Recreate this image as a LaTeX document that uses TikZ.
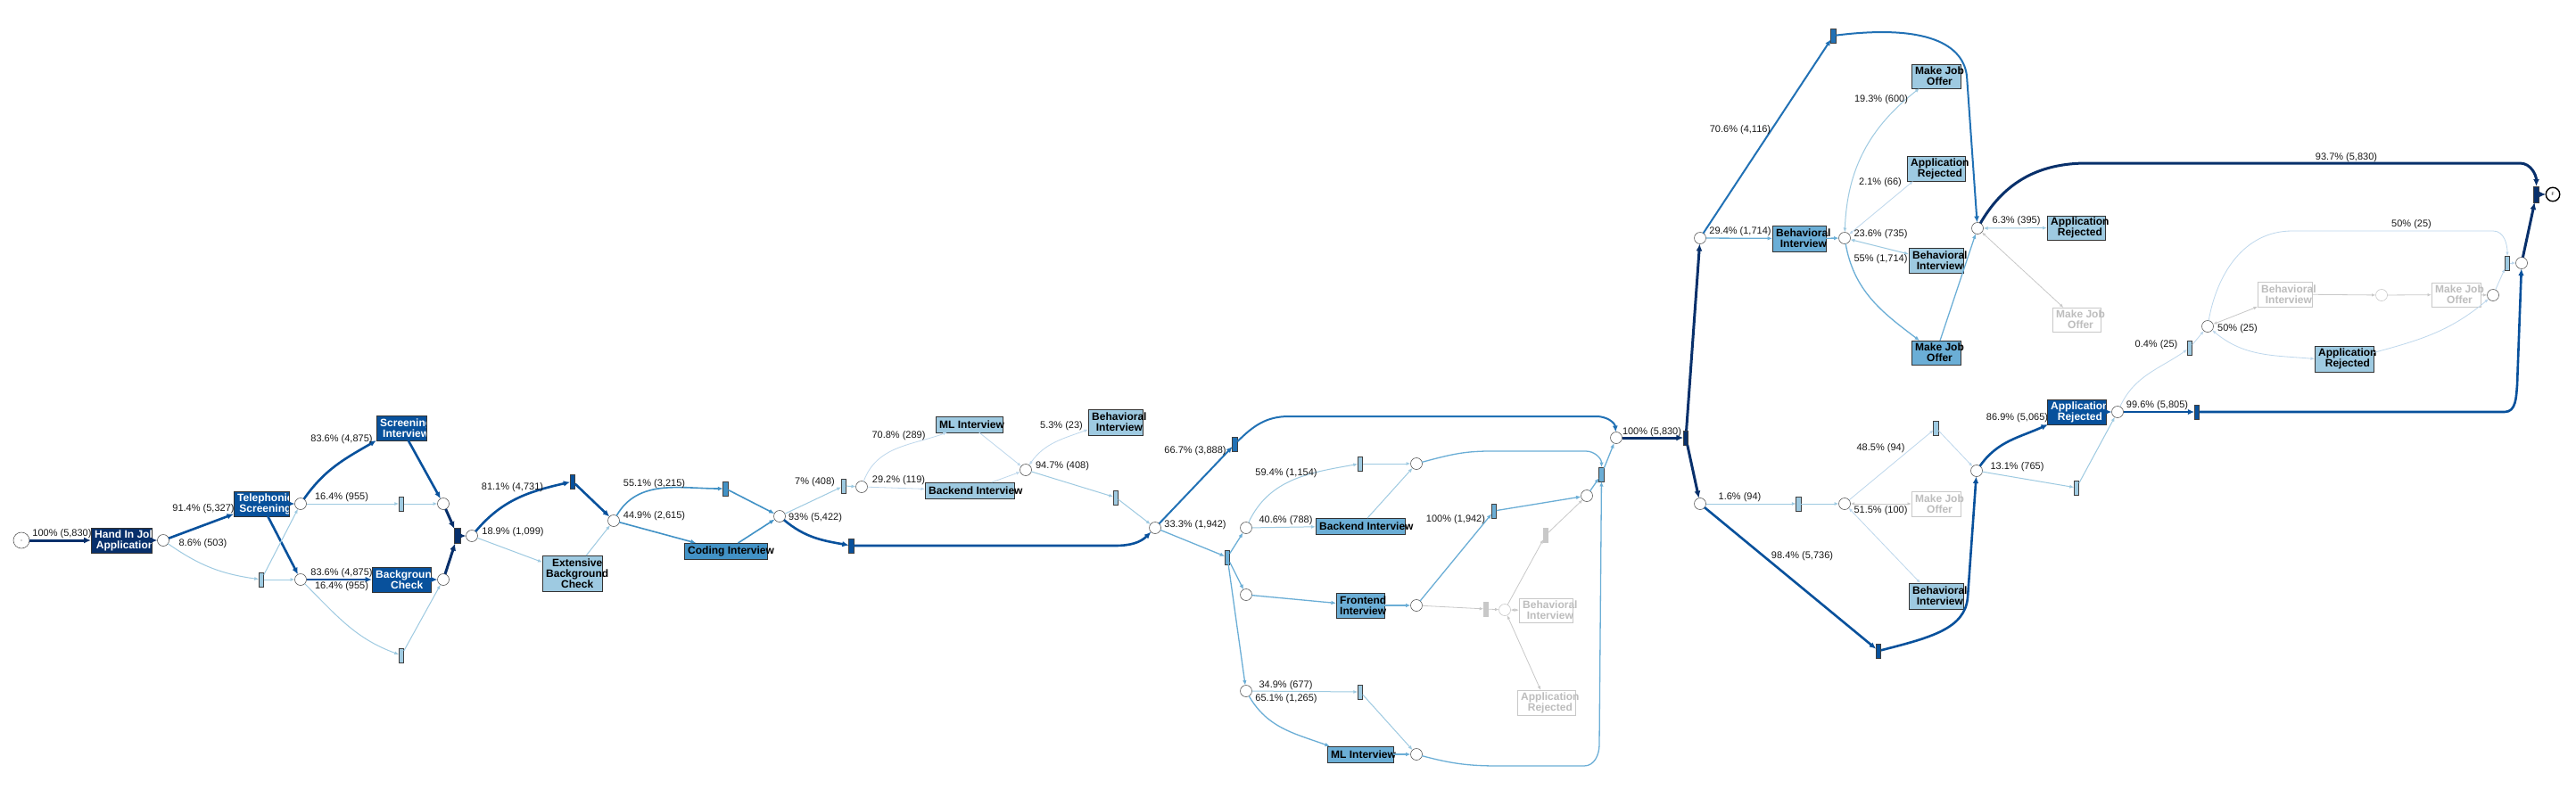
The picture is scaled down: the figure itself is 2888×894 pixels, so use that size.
\documentclass[tikz,border=0pt]{standalone}
\usepackage{fontspec}
\setmainfont{Liberation Sans}
\usetikzlibrary{arrows.meta}
\definecolor{c1}{HTML}{08306B}
\definecolor{c2}{HTML}{08519C}
\definecolor{c3}{HTML}{2171B5}
\definecolor{c4}{HTML}{4292C6}
\definecolor{c5}{HTML}{6BAED6}
\definecolor{c6}{HTML}{9ECAE1}
\definecolor{c7}{HTML}{BDD7EC}
\definecolor{cg}{HTML}{C8C8C8}
\definecolor{cgt}{HTML}{BDBDBD}
\tikzset{
 place/.style={circle, draw=black!65, fill=white, line width=0.6pt, minimum size=13pt, inner sep=0pt, outer sep=0pt},
 gplace/.style={place, draw=cg},
 tau/.style={rectangle, draw=black!75, line width=0.6pt, minimum width=5.5pt, minimum height=16pt, inner sep=0pt, outer sep=0pt, fill=#1},
 gtau/.style={rectangle, draw=cg, fill=cg, line width=0.6pt, minimum width=5.5pt, minimum height=16pt, inner sep=0pt, outer sep=0pt},
 actbox/.style={rectangle, draw=black!80, line width=0.7pt, inner sep=0pt, outer sep=0pt, fill=#1},
 gbox/.style={rectangle, draw=cg, line width=0.7pt, inner sep=0pt, outer sep=0pt, fill=white},
 acttext/.style={anchor=west, inner sep=0pt, align=center, font=\bfseries\fontsize{12}{12}\selectfont},
 lbl/.style={inner sep=0pt, font=\fontsize{11}{12}\selectfont, text=black!90},
 e1/.style={draw=c1, line width=3pt, >={Latex[length=8pt,width=7pt]}, ->},
 e2/.style={draw=c2, line width=2.6pt, >={Latex[length=7.5pt,width=6.5pt]}, ->},
 e3/.style={draw=c3, line width=2pt, >={Latex[length=7pt,width=6pt]}, ->},
 e4/.style={draw=c4, line width=1.6pt, >={Latex[length=6pt,width=5pt]}, ->},
 e5/.style={draw=c5, line width=1.3pt, >={Latex[length=5.5pt,width=4.5pt]}, ->},
 e6/.style={draw=c6, line width=1pt, >={Latex[length=5pt,width=4pt]}, ->},
 e7/.style={draw=c7, line width=0.8pt, >={Latex[length=4.5pt,width=3.5pt]}, ->},
 eg/.style={draw=cg, line width=0.8pt, >={Latex[length=4.5pt,width=3.5pt]}, ->}
}
\newcommand{\mkact}[8]{\node[#6, minimum width=#4pt, minimum height=#5pt] (#1) at (#2,-#3) {};\node[acttext, text=#7] (#1t) at ([xshift=4pt]#1.west) {#8};}
\newcommand{\mkactc}[8]{\node[#6, minimum width=#4pt, minimum height=#5pt] (#1) at (#2,-#3) {};\begin{scope}\clip ([shift={(0.4pt,0.4pt)}]#1.south west) rectangle ([shift={(-0.4pt,-0.4pt)}]#1.north east);\node[acttext, text=#7] (#1t) at ([xshift=4pt]#1.west) {#8};\end{scope}}
\begin{document}
\begin{tikzpicture}[x=1pt,y=1pt]
\useasboundingbox[fill=white] (0,0) rectangle (2888,-894);
% activity boxes
\mkactc{HandIn}{136}{606}{68}{28}{actbox=c1}{white}{Hand In Job\\Application}
\mkactc{Tele}{293}{565}{62}{28}{actbox=c2}{white}{Telephonic\\Screening}
\mkactc{SI}{450}{480}{56}{28}{actbox=c2}{white}{Screening\\Interview}
\mkactc{BgC}{450}{650}{66}{28}{actbox=c2}{white}{Background\\Check}
\mkact{ExtBg}{641.5}{643}{67}{40}{actbox=c6}{black}{Extensive\\Background\\Check}
\mkact{Coding}{813.5}{618}{93}{18}{actbox=c4}{black}{Coding Interview}
\mkact{MLa}{1086.5}{476}{75}{18}{actbox=c6}{black}{ML Interview}
\mkact{Backa}{1087}{550}{100}{18}{actbox=c6}{black}{Backend Interview}
\mkact{Beha}{1250.5}{473.5}{61}{29}{actbox=c6}{black}{Behavioral\\Interview}
\mkact{Backb}{1525}{590}{100}{18}{actbox=c5}{black}{Backend Interview}
\mkact{Front}{1525}{679}{54}{28}{actbox=c5}{black}{Frontend\\Interview}
\mkact{MLb}{1525}{846}{74}{18}{actbox=c5}{black}{ML Interview}
\mkact{BehG}{1733}{684.5}{60}{27}{gbox}{cgt}{Behavioral\\Interview}
\mkact{ARG}{1733.5}{788}{65}{28}{gbox}{cgt}{Application\\Rejected}
\mkact{Behb}{2017}{267.5}{60}{29}{actbox=c5}{black}{Behavioral\\Interview}
\mkact{MJa}{2170.5}{85.5}{55}{27}{actbox=c6}{black}{Make Job\\Offer}
\mkact{ARa}{2170.5}{189}{65}{28}{actbox=c6}{black}{Application\\Rejected}
\mkact{Behc}{2170.5}{292}{61}{28}{actbox=c6}{black}{Behavioral\\Interview}
\mkact{MJb}{2170.5}{395.5}{55}{27}{actbox=c5}{black}{Make Job\\Offer}
\mkact{ARb}{2327.5}{255.5}{65}{27}{actbox=c6}{black}{Application\\Rejected}
\mkact{MJGa}{2328}{358.5}{54}{27}{gbox}{cgt}{Make Job\\Offer}
\mkact{MJGc}{2170.5}{565}{55}{28}{gbox}{cgt}{Make Job\\Offer}
\mkact{Behd}{2170.5}{668.5}{61}{29}{actbox=c6}{black}{Behavioral\\Interview}
\mkactc{ARd}{2328}{462}{66}{28}{actbox=c2}{white}{Application\\Rejected}
\mkact{BehG2}{2561.5}{330}{61}{28}{gbox}{cgt}{Behavioral\\Interview}
\mkact{MJGb}{2753.5}{330.5}{55}{27}{gbox}{cgt}{Make Job\\Offer}
\mkact{ARc}{2628}{402.5}{66}{29}{actbox=c6}{black}{Application\\Rejected}
% places
\node[place, minimum size=18pt] (S) at (24,-606) {};
\fill[black!70] (S.center) circle (0.6pt);
\node[place] (p1) at (183,-606) {};
\node[place] (p2) at (337,-565) {};
\node[place] (p3) at (497,-565) {};
\node[place] (p4) at (337,-650) {};
\node[place] (p5) at (497,-650) {};
\node[place] (p6) at (529,-601) {};
\node[place] (p7) at (688,-584) {};
\node[place] (p8) at (874,-579) {};
\node[place] (p9) at (966,-546) {};
\node[place] (p10) at (1150,-527) {};
\node[place] (p11) at (1295,-592) {};
\node[place] (p12) at (1397,-592) {};
\node[place] (p13) at (1397,-667) {};
\node[place] (p14) at (1397,-775) {};
\node[place] (p15) at (1588,-520) {};
\node[place] (p16) at (1588,-679) {};
\node[place] (p17) at (1779,-556) {};
\node[place] (p18) at (1812,-491) {};
\node[gplace] (p19) at (1687,-684) {};
\node[place] (p20) at (1588,-846) {};
\node[place] (p21) at (1906,-267) {};
\node[place] (p22) at (1906,-565) {};
\node[place] (p23) at (2068,-267) {};
\node[place] (p24) at (2217,-256) {};
\node[place] (p25) at (2827,-295) {};
\node[gplace] (p26) at (2670,-331) {};
\node[place] (p27) at (2795,-331) {};
\node[place] (p28) at (2475,-366) {};
\node[place] (p29) at (2374,-462) {};
\node[place] (p30) at (2068,-565) {};
\node[place] (p31) at (2216,-528) {};
\node[place, minimum size=15.5pt, draw=black, line width=1.4pt] (E) at (2862,-218) {\fontsize{5}{5}\selectfont F};
% silent transitions
\node[tau=c6] (ta) at (450,-565) {};
\node[tau=c6] (tb) at (293,-650) {};
\node[tau=c6] (tc) at (450,-735) {};
\node[tau=c1, minimum width=7pt, minimum height=17pt] (tja) at (513,-601) {};
\node[tau=c2] (tjb) at (642,-540) {};
\node[tau=c4] (td) at (813.5,-548) {};
\node[tau=c6] (te) at (946,-545) {};
\node[tau=c2] (tbig) at (954.5,-612) {};
\node[tau=c6] (tf) at (1251,-558) {};
\node[tau=c3] (tg) at (1384.5,-498) {};
\node[tau=c5] (th) at (1376,-625) {};
\node[tau=c6] (ti) at (1525,-520) {};
\node[tau=c5] (tj) at (1675,-573) {};
\node[tau=c5] (tk) at (1795.5,-532) {};
\node[gtau] (tl) at (1733,-600) {};
\node[gtau] (tm) at (1666,-683) {};
\node[tau=c6] (tn) at (1525,-776) {};
\node[tau=c1] (tsplit) at (1890,-491) {};
\node[tau=c3] (tp) at (2055.5,-40) {};
\node[tau=c6] (tt) at (2016.5,-565) {};
\node[tau=c6] (tu) at (2170.5,-480) {};
\node[tau=c2] (tv) at (2106,-730) {};
\node[tau=c6] (tw) at (2328,-547) {};
\node[tau=c6] (tr) at (2455,-390) {};
\node[tau=c6] (tq) at (2811,-295) {};
\node[tau=c2] (ts) at (2463,-462) {};
\node[tau=c1, minimum width=6pt, minimum height=18pt] (tend) at (2843.5,-218) {};
% arcs
\draw[e1] (S) -- (HandIn);
\draw[e1] (HandIn) -- (p1);
\draw[e2] (p1) -- (Tele);
\draw[e6] (p1) to[out=-35,in=172] (tb);
\draw[e2] (Tele) -- (p2);
\draw[e2] (Tele) -- (p4);
\draw[e6] (tb) -- (p2);
\draw[e6] (tb) -- (p4);
\draw[e2] (p2) to[out=55,in=-150] (SI.south west);
\draw[e6] (p2) -- (ta);
\draw[e6] (ta) -- (p3);
\draw[e2] (SI) -- (p3);
\draw[e2] (p4) -- (BgC);
\draw[e6] (p4) to[out=-45,in=160] (tc);
\draw[e6] (tc) -- (p5);
\draw[e2] (BgC) -- (p5);
\draw[e1] (p3) -- (tja);
\draw[e1] (p5) -- (tja);
\draw[e1] (tja) -- (p6);
\draw[e2] (p6) to[out=50,in=193] (tjb);
\draw[e6] (p6) -- (ExtBg);
\draw[e2] (tjb) -- (p7);
\draw[e6] (ExtBg) -- (p7);
\draw[e4] (p7) to[out=60,in=180] (td);
\draw[e4] (p7) -- (Coding);
\draw[e4] (td) -- (p8);
\draw[e4] (Coding) -- (p8);
\draw[e6] (p8) -- (te);
\draw[e2] (p8) to[out=-40,in=170] (tbig);
\draw[e6] (te) -- (p9);
\draw[e7] (p9) to[out=70,in=-160] (MLa.-160);
\draw[e7] (p9) -- (Backa);
\draw[e7] (MLa) -- (p10);
\draw[e7] (Backa) -- (p10);
\draw[e7,<->] (p10) to[out=55,in=-160] (Beha.-165);
\draw[e6] (p10) -- (tf);
\draw[e6] (tf) -- (p11);
\draw[e2] (tbig) -- (1250,-612) to[out=0,in=-135] (p11);
\draw[e3] (p11) -- (tg);
\draw[e3] (tg) to[out=45,in=180] (1445,-467) -- (1790,-467) to[out=0,in=95] (p18);
\draw[e5] (p11) -- (th);
\draw[e5] (th) -- (p12);
\draw[e5] (th) -- (p13);
\draw[e5] (th) -- (p14);
\draw[e6] (p12) to[out=65,in=190] (ti);
\draw[e6] (p12) -- (Backb);
\draw[e6] (ti) -- (p15);
\draw[e6] (Backb) -- (p15);
\draw[e5] (p15) to[out=15,in=180] (1670,-506) -- (1778,-506) to[out=0,in=90] (tk);
\draw[e5] (p13) -- (Front);
\draw[e5] (Front) -- (p16);
\draw[e5] (p16) -- (tj);
\draw[e5] (tj) -- (p17);
\draw[eg] (p16) -- (tm);
\draw[eg] (tm) -- (p19);
\draw[eg,<->] (p19) -- (BehG);
\draw[eg,<->] (p19) -- (ARG);
\draw[eg] (p19) -- (tl);
\draw[eg] (tl) -- (p17);
\draw[e5] (p17) -- (tk);
\draw[e6] (p14) -- (tn);
\draw[e5] (p14) to[out=-60,in=160] ([xshift=3pt]MLb.north west);
\draw[e6] (tn) -- (p20);
\draw[e5] (MLb) -- (p20);
\draw[e5] (p20) to[out=-15,in=180] (1680,-859) -- (1776,-859) to[out=0,in=-90] (1793,-835) -- (tk);
\draw[e5] (tk) -- (p18);
\draw[e1] (p18) -- (tsplit);
\draw[e1] (tsplit) -- (p21);
\draw[e1] (tsplit) -- (p22);
\draw[e3] (p21) -- (tp);
\draw[e3] (tp) .. controls (2150,-28) and (2200,-45) .. (2205,-85) -- (p24);
\draw[e5] (p21) -- (Behb);
\draw[e5] (Behb) -- (p23);
\draw[e6,<->] (p23) to[out=88,in=-142] ([xshift=9pt]MJa.south west);
\draw[e7,<->] (p23) -- ([xshift=7pt]ARa.south west);
\draw[e6,<->] (p23) -- ([yshift=7pt]Behc.west);
\draw[e5] (p23) to[out=-80,in=143] ([xshift=9pt]MJb.north west);
\draw[e5] (MJb) -- (p24);
\draw[e6,<->] (p24) -- (ARb);
\draw[eg,<->] (p24) -- (MJGa);
\draw[e1] (p24) to[out=60,in=180] (2340,-183) -- (2825,-183) to[out=0,in=90] (tend);
\draw[e6] (p22) -- (tt);
\draw[e6] (tt) -- (p30);
\draw[e7] (p30) -- (tu);
\draw[e7] (tu) -- (p31);
\draw[eg,<->] (p30) -- (MJGc);
\draw[e7,<->] (p30) -- ([xshift=13pt]Behd.north west);
\draw[e2] (p22) -- (tv);
\draw[e2] (tv) .. controls (2165,-715) and (2203,-705) .. (2206,-670) -- (p31);
\draw[e2] (p31) to[out=55,in=-155] ([xshift=1pt]ARd.south west);
\draw[e6] (p31) -- (tw);
\draw[e6] (tw) -- (p29);
\draw[e2] (ARd) -- (p29);
\draw[e2] (p29) -- (ts);
\draw[e2] (ts) -- (2808,-462) to[out=0,in=-95] (2822,-432) -- (p25);
\draw[e7] (p29) to[out=65,in=-145] (tr);
\draw[e7] (tr) -- (p28);
\draw[eg,<->] (p28) -- (BehG2.south west);
\draw[e7,<->] (p28) to[out=-40,in=175] (ARc.west);
\draw[e7] (p28) to[out=80,in=180] (2570,-259) -- (2795,-259) to[out=0,in=90] (tq);
\draw[eg] (BehG2) -- (p26);
\draw[eg] (p26) -- (MJGb);
\draw[eg] (MJGb) -- (p27);
\draw[e7] ([yshift=7pt]ARc.east) to[out=15,in=-140] (p27);
\draw[e7] (p27) -- (tq);
\draw[e7] (tq) -- (p25);
\draw[e1] (p25) -- (tend);
\draw[e1] (tend) -- (E);
% labels
\node[lbl] (l1) at (69.5,-599) {100\% (5,830)};
\node[lbl] (l2) at (228,-571) {91.4\% (5,327)};
\node[lbl] (l3) at (227.5,-610) {8.6\% (503)};
\node[lbl] (l4) at (383,-558) {16.4\% (955)};
\node[lbl] (l5) at (383,-493) {83.6\% (4,875)};
\node[lbl] (l6) at (383,-643) {83.6\% (4,875)};
\node[lbl] (l7) at (383,-658) {16.4\% (955)};
\node[lbl] (l8) at (574.5,-547) {81.1\% (4,731)};
\node[lbl] (l9) at (575,-597) {18.9\% (1,099)};
\node[lbl] (l10) at (733.5,-543) {55.1\% (3,215)};
\node[lbl] (l11) at (733.5,-579) {44.9\% (2,615)};
\node[lbl] (l12) at (914,-581) {93\% (5,422)};
\node[lbl] (l13) at (913.5,-541) {7\% (408)};
\node[lbl] (l14) at (1007.5,-539) {29.2\% (119)};
\node[lbl] (l15) at (1007.5,-489) {70.8\% (289)};
\node[lbl] (l16) at (1191,-523) {94.7\% (408)};
\node[lbl] (l17) at (1190,-478) {5.3\% (23)};
\node[lbl] (l18) at (1340,-589) {33.3\% (1,942)};
\node[lbl] (l19) at (1340,-506) {66.7\% (3,888)};
\node[lbl] (l20) at (1442,-531) {59.4\% (1,154)};
\node[lbl] (l21) at (1441.5,-584) {40.6\% (788)};
\node[lbl] (l22) at (1632,-583) {100\% (1,942)};
\node[lbl] (l23) at (1441.5,-769) {34.9\% (677)};
\node[lbl] (l24) at (1442,-784) {65.1\% (1,265)};
\node[lbl] (l25) at (1852,-485) {100\% (5,830)};
\node[lbl] (l26) at (1951,-146) {70.6\% (4,116)};
\node[lbl] (l27) at (1951,-260) {29.4\% (1,714)};
\node[lbl] (l28) at (2109,-112) {19.3\% (600)};
\node[lbl] (l29) at (2108,-205) {2.1\% (66)};
\node[lbl] (l30) at (2108.5,-263) {23.6\% (735)};
\node[lbl] (l31) at (2108.5,-291) {55\% (1,714)};
\node[lbl] (l32) at (2260.5,-248) {6.3\% (395)};
\node[lbl] (l33) at (2630.5,-177) {93.7\% (5,830)};
\node[lbl] (l34) at (2703.5,-252) {50\% (25)};
\node[lbl] (l35) at (2508.5,-369) {50\% (25)};
\node[lbl] (l36) at (2417.5,-387) {0.4\% (25)};
\node[lbl] (l37) at (2418.5,-455) {99.6\% (5,805)};
\node[lbl] (l38) at (1950.5,-558) {1.6\% (94)};
\node[lbl] (l39) at (2108.5,-503) {48.5\% (94)};
\node[lbl] (l40) at (2108.5,-573) {51.5\% (100)};
\node[lbl] (l41) at (2020.5,-624) {98.4\% (5,736)};
\node[lbl] (l42) at (2261.5,-469) {86.9\% (5,065)};
\node[lbl] (l43) at (2261.5,-524) {13.1\% (765)};
\end{tikzpicture}
\end{document}
